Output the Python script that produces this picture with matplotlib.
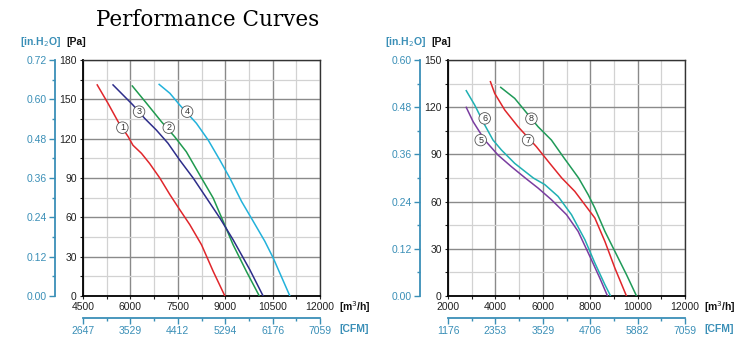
import numpy as np
import matplotlib.pyplot as plt
from matplotlib.ticker import MultipleLocator, FormatStrFormatter

plt.rcParams['font.family'] = ['Liberation Sans', 'DejaVu Sans']

TEAL = "#3a8fb7"

# ---- left chart: flow [m3/h] vs static pressure [Pa]
c1_x = [4950, 5290, 5610, 5930, 6080, 6350, 6610, 6930, 7250, 7560, 7880, 8250, 8620, 8990]
c1_y = [161, 147, 133, 121.5, 115, 108.8, 101, 90, 77.3, 65.9, 54.4, 39.1, 18.8, 0]
c2_x = [6060, 6510, 6980, 7400, 7770, 8250, 8620, 8935, 9250, 9670, 10080]
c2_y = [160.2, 147, 133, 121.5, 110, 90, 74.7, 57, 39.1, 18.8, 0]
c3_x = [5450, 6080, 6450, 6820, 7190, 7560, 7985, 8410, 8830, 9250, 9780, 10200]
c3_y = [161, 145.7, 135.5, 126.6, 116.5, 103.7, 90, 74.7, 59.5, 42.9, 20, 0]
c4_x = [6910, 7250, 7560, 8090, 8460, 8830, 9146, 9516, 9886, 10255, 10519, 11047]
c4_y = [161.4, 154.6, 145.7, 131.7, 119, 103.7, 90, 72.2, 57, 41.7, 29, 0]

# ---- right chart
c5_x = [2770, 3060, 3550, 4110, 4675, 5260, 5800, 6365, 7000, 7490, 7985, 8405, 8730]
c5_y = [119.9, 110.8, 99.1, 89.6, 82.2, 75, 68.6, 61.2, 51.7, 41.1, 25.2, 11.4, 0]
c6_x = [2770, 3125, 3550, 3900, 4255, 4815, 5600, 6085, 6645, 7210, 7775, 8195, 8620, 8860]
c6_y = [130.5, 121.4, 108.7, 99.1, 92.8, 84.3, 75, 70.8, 63.3, 51.7, 35.8, 21, 7.2, 0]
c7_x = [3790, 3970, 4395, 4955, 5730, 6295, 6800, 7350, 7775, 8195, 8620, 9040, 9530]
c7_y = [136.2, 128.8, 118.2, 107.6, 94.9, 84.3, 75, 66.5, 58, 49.6, 34.7, 17.8, 0]
c8_x = [4225, 4815, 5800, 6365, 6860, 7510, 7915, 8195, 8620, 9040, 9530, 9955]
c8_y = [132.6, 125.6, 107.6, 99.1, 88.5, 75, 64.4, 55.9, 41.1, 28.4, 13.6, 0]

left_curves = [(c1_x, c1_y, "#e0262b"), (c2_x, c2_y, "#1f9a4e"),
               (c3_x, c3_y, "#2d2d8a"), (c4_x, c4_y, "#22b2db")]
right_curves = [(c5_x, c5_y, "#7a3da0"), (c6_x, c6_y, "#1fb0b3"),
                (c7_x, c7_y, "#e0262b"), (c8_x, c8_y, "#1f9a58")]

# circled curve numbers (label, x, y)
left_marks = [("1", 5746, 128.4), ("3", 6274, 140.6), ("2", 7214, 128.4), ("4", 7795, 140.6)]
right_marks = [("6", 3549, 112.9), ("5", 3380, 99.1), ("8", 5520, 112.7), ("7", 5379, 99.1)]

left_cfm = ["2647", "3529", "4412", "5294", "6176", "7059"]
right_cfm = ["1176", "2353", "3529", "4706", "5882", "7059"]


def panel(rect, xlim, xstep, ymax, h2o_max, curves, marks, cfm_labels):
    ax = fig.add_axes(rect)
    ax.set_xlim(*xlim)
    ax.set_ylim(0, ymax)
    ax.xaxis.set_major_locator(MultipleLocator(xstep))
    ax.xaxis.set_minor_locator(MultipleLocator(xstep / 2))
    ax.yaxis.set_major_locator(MultipleLocator(30))
    ax.yaxis.set_minor_locator(MultipleLocator(15))
    ax.grid(which="major", color="#8a8a8a", lw=1.0)
    ax.grid(which="minor", color="#d2d2d2", lw=0.9)
    ax.set_axisbelow(True)
    ax.tick_params(which="both", direction="out", length=2.5, width=0.8,
                   labelsize=7.5, pad=2, colors="#222")
    for s in ax.spines.values():
        s.set_color("#333")
        s.set_linewidth(1.0)
    ax.spines["left"].set_color("black")
    ax.spines["bottom"].set_color("black")
    ax.spines["left"].set_linewidth(1.3)
    ax.spines["bottom"].set_linewidth(1.3)

    for x, y, c in curves:
        ax.plot(x, y, color=c, lw=1.1, zorder=3)
    for lab, x, y in marks:
        ax.text(x, y, lab, ha="center", va="center", fontsize=6.5, color="#333",
                zorder=5, bbox=dict(boxstyle="circle,pad=0.14", fc="white",
                                    ec="#555", lw=0.6))

    # in.H2O axis
    axh = ax.twinx()
    axh.set_ylim(0, h2o_max)
    axh.yaxis.tick_left()
    for k in ("right", "top", "bottom"):
        axh.spines[k].set_visible(False)
    axh.spines["left"].set_position(("axes", -28 / 237))
    axh.spines["left"].set_color(TEAL)
    axh.spines["left"].set_linewidth(1.3)
    axh.yaxis.set_major_locator(MultipleLocator(0.12))
    axh.yaxis.set_minor_locator(MultipleLocator(0.06))
    axh.yaxis.set_major_formatter(FormatStrFormatter("%.2f"))
    axh.tick_params(which="major", direction="out", length=4.5, width=1.0,
                    labelsize=7.5, pad=1.5, colors=TEAL)
    axh.tick_params(which="minor", direction="out", length=2.5, width=1.0, colors=TEAL)

    # CFM axis
    axc = ax.twiny()
    axc.set_xlim(*xlim)
    axc.xaxis.tick_bottom()
    for k in ("right", "top", "left"):
        axc.spines[k].set_visible(False)
    axc.spines["bottom"].set_position(("axes", -22 / 236))
    axc.spines["bottom"].set_color(TEAL)
    axc.spines["bottom"].set_linewidth(1.3)
    axc.set_xticks(np.arange(xlim[0], xlim[1] + 1, xstep))
    axc.set_xticklabels(cfm_labels)
    axc.xaxis.set_minor_locator(MultipleLocator(xstep / 2))
    axc.tick_params(which="major", direction="out", length=4, width=1.0,
                    labelsize=7.5, pad=2, colors=TEAL)
    axc.tick_params(which="minor", direction="out", length=2.5, width=1.0, colors=TEAL)

    # unit labels
    ax.text(-0.265, 1.075, "[in.H$_2$O]", transform=ax.transAxes, color=TEAL,
            fontsize=7.5, fontweight="bold", ha="left", va="center")
    ax.text(-0.072, 1.075, "[Pa]", transform=ax.transAxes, color="#111",
            fontsize=7.5, fontweight="bold", ha="left", va="center")
    ax.text(1.08, -0.045, "[m$^3$/h]", transform=ax.transAxes, color="#111",
            fontsize=7.5, fontweight="bold", ha="left", va="center")
    ax.text(1.08, -0.14, "[CFM]", transform=ax.transAxes, color=TEAL,
            fontsize=7.5, fontweight="bold", ha="left", va="center")
    return ax


fig = plt.figure(figsize=(7.5, 3.5), dpi=100)
axl = panel([83 / 750, 54 / 350, 237 / 750, 236 / 350], (4500, 12000), 1500, 180, 0.72,
            left_curves, left_marks, left_cfm)
axr = panel([448 / 750, 54 / 350, 237 / 750, 236 / 350], (2000, 12000), 2000, 150, 0.60,
            right_curves, right_marks, right_cfm)

fig.text(208 / 750, 1 - 20 / 350, "Performance Curves", family="DejaVu Serif",
         fontsize=15.5, ha="center", va="center")

plt.savefig("out.png", dpi=100)
